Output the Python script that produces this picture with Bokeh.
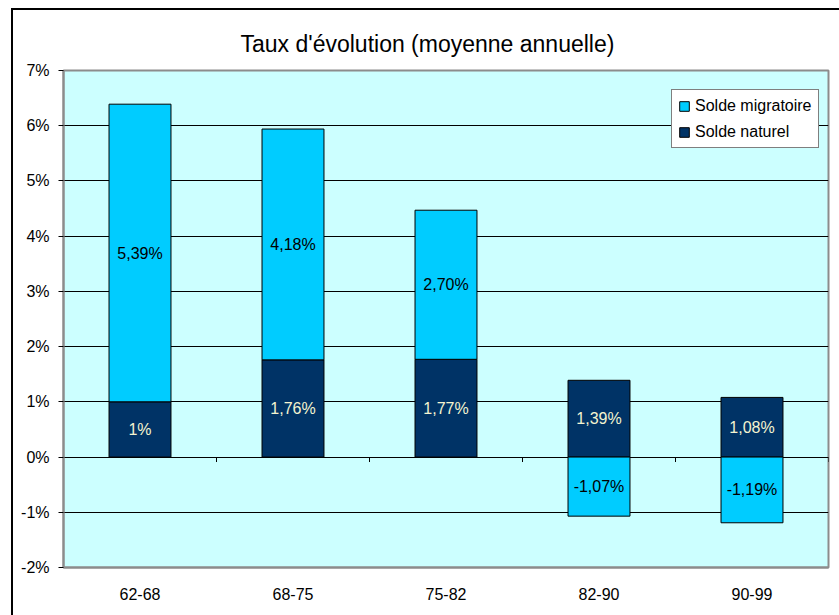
from bokeh.plotting import figure
from bokeh.models import (ColumnDataSource, Range1d, FixedTicker, Legend, LegendItem, LabelSet)
from bokeh.core.properties import value
from bokeh.embed import file_html
from bokeh.resources import INLINE

categories = ["62-68", "68-75", "75-82", "82-90", "90-99"]
solde_naturel = [1.00, 1.76, 1.77, 1.39, 1.08]
solde_migratoire = [5.39, 4.18, 2.70, -1.07, -1.19]
y_ticks = [-2, -1, 0, 1, 2, 3, 4, 5, 6, 7]
title_text = "Taux d'évolution (moyenne annuelle)"

FONT = "Liberation Sans"
C_MIG = "#00CCFF"
C_NAT = "#003366"


def fmt(v):
    if float(v).is_integer():
        s = str(int(v))
    else:
        s = f"{v:.2f}".replace(".", ",")
    return s + "%"


n = len(categories)
xs = [i + 0.5 for i in range(n)]
nat_bottom = [0.0] * n
nat_top = list(solde_naturel)
mig_bottom = [nb if m >= 0 else 0.0 for nb, m in zip(solde_naturel, solde_migratoire)]
mig_top = [nb + m if m >= 0 else m for nb, m in zip(solde_naturel, solde_migratoire)]

src_nat = ColumnDataSource(dict(x=xs, bottom=nat_bottom, top=nat_top,
                                ymid=[(a + b) / 2 for a, b in zip(nat_bottom, nat_top)],
                                lab=[fmt(v) for v in solde_naturel]))
src_mig = ColumnDataSource(dict(x=xs, bottom=mig_bottom, top=mig_top,
                                ymid=[(a + b) / 2 for a, b in zip(mig_bottom, mig_top)],
                                lab=[fmt(v) for v in solde_migratoire]))

p = figure(width=839, height=615, x_range=Range1d(0, n), y_range=Range1d(y_ticks[0], y_ticks[-1]),
           output_backend="svg", toolbar_location=None,
           min_border_left=63, min_border_right=11, min_border_top=70, min_border_bottom=48)

p.background_fill_color = "#CCFFFF"
p.border_fill_alpha = 0
p.outline_line_color = "#8C8C8C"
p.outline_line_width = 2
# outer chart frame (left and top edges, the rest runs off the page)
p.styles = {
    "background-color": "white",
    "background-image": "linear-gradient(#000, #000), linear-gradient(#000, #000)",
    "background-position": "11px 8px, 11px 8px",
    "background-size": "2px 100%, 100% 2px",
    "background-repeat": "no-repeat",
}

p.title.text = title_text
p.title.align = "left"
p.title.offset = 177
p.title.text_font = FONT
p.title.text_font_size = "23px"
p.title.text_font_style = "normal"
p.title.text_color = "black"
p.title.standoff = 27

p.xgrid.visible = False
p.ygrid.ticker = FixedTicker(ticks=y_ticks)
p.ygrid.grid_line_color = "black"
p.ygrid.grid_line_width = 1

ya = p.yaxis[0]
ya.ticker = FixedTicker(ticks=y_ticks)
ya.major_label_overrides = {t: f"{t}%" for t in y_ticks}
ya.axis_line_color = "#8C8C8C"
ya.axis_line_width = 2
ya.major_tick_line_color = "black"
ya.major_tick_in = 0
ya.major_tick_out = 5
ya.minor_tick_line_color = None
ya.major_label_standoff = 9
ya.major_label_text_font = FONT
ya.major_label_text_font_size = "16px"
ya.major_label_text_color = "black"

xa = p.xaxis[0]
xa.ticker = FixedTicker(ticks=xs)
xa.major_label_overrides = {x: c for x, c in zip(xs, categories)}
xa.axis_line_color = "#8C8C8C"
xa.axis_line_width = 2
xa.major_tick_line_color = None
xa.minor_tick_line_color = None
xa.major_label_standoff = 14
xa.major_label_text_font = FONT
xa.major_label_text_font_size = "16px"
xa.major_label_text_color = "black"

# small category separators on the zero line
bounds = [i + 1 for i in range(n)]
p.segment(x0=bounds, y0=[0] * n, x1=bounds, y1=[-0.09] * n, line_color="black", line_width=1)

r_nat = p.vbar(x="x", width=0.405, bottom="bottom", top="top", source=src_nat,
               fill_color=C_NAT, line_color="black", line_width=1)
r_mig = p.vbar(x="x", width=0.405, bottom="bottom", top="top", source=src_mig,
               fill_color=C_MIG, line_color="black", line_width=1)

p.add_layout(LabelSet(x="x", y="ymid", text="lab", source=src_nat, text_align="center",
                      text_baseline="middle", text_font=value(FONT), text_font_size="16px",
                      text_color="#F4F4D0"))
p.add_layout(LabelSet(x="x", y="ymid", text="lab", source=src_mig, text_align="center",
                      text_baseline="middle", text_font=value(FONT), text_font_size="16px",
                      text_color="black"))

legend = Legend(items=[LegendItem(label="Solde migratoire", renderers=[r_mig]),
                       LegendItem(label="Solde naturel", renderers=[r_nat])],
                location=(608, 419))
legend.border_line_color = "black"
legend.border_line_width = 1
legend.background_fill_color = "white"
legend.background_fill_alpha = 1
legend.label_text_font = FONT
legend.label_text_font_size = "16px"
legend.label_text_color = "black"
legend.glyph_width = 12
legend.glyph_height = 12
legend.label_standoff = 5
legend.spacing = 7
legend.padding = 6
legend.margin = 0
legend.label_height = 19
p.add_layout(legend)

open("out.html", "w").write(file_html(p, INLINE))
